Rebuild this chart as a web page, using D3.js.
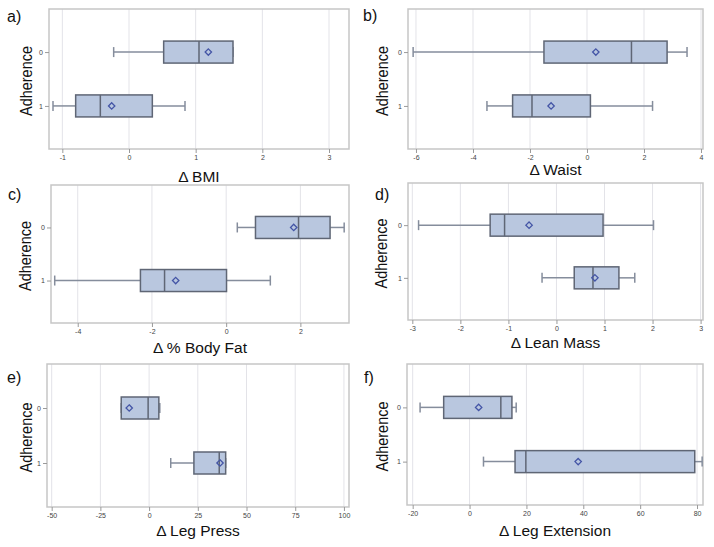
<!DOCTYPE html>
<html>
<head>
<meta charset="utf-8">
<script src="https://cdn.jsdelivr.net/npm/d3@7/dist/d3.min.js"></script>
<style>
  html, body { margin: 0; padding: 0; background: #ffffff; }
  svg { display: block; font-family: "Liberation Sans", Arial, sans-serif; }
</style>
</head>
<body>
<svg id="chart" width="714" height="547"></svg>
<script>
// ---- data ----
const categories = ["0", "1"];
const panelLabels = ["a)", "b)", "c)", "d)", "e)", "f)"];
const axisTitles = ["Δ BMI", "Δ Waist", "Δ % Body Fat", "Δ Lean Mass", "Δ Leg Press", "Δ Leg Extension"];
const xTicks = [
  [-1, 0, 1, 2, 3],
  [-6, -4, -2, 0, 2, 4],
  [-4, -2, 0, 2],
  [-3, -2, -1, 0, 1, 2, 3],
  [-50, -25, 0, 25, 50, 75, 100],
  [-20, 0, 20, 40, 60, 80]
];
const xDomains = [
  [-1.2, 3.3],
  [-6.28, 4.07],
  [-4.72, 3.31],
  [-3.09, 3.05],
  [-52.4, 102.6],
  [-22, 82.1]
];
// per panel: [group 0, group 1]
const lowWhisker  = [[-0.23, -1.14], [-6.1, -3.51], [0.30, -4.62], [-2.87, -0.30], [-14.3, 11.1], [-17.4, 4.9]];
const q1          = [[0.52, -0.80],  [-1.51, -2.61], [0.79, -2.31], [-1.38, 0.37], [-14.3, 23.0], [-9.1, 16.0]];
const median      = [[1.05, -0.43],  [1.56, -1.93],  [1.95, -1.66], [-1.08, 0.76], [-0.5, 36.0],  [11.0, 19.8]];
const mean        = [[1.19, -0.26],  [0.31, -1.26],  [1.82, -1.36], [-0.57, 0.80], [-10.2, 36.4], [3.2, 38.2]];
const q3          = [[1.56, 0.35],   [2.81, 0.12],   [2.80, 0.01],  [0.97, 1.30],  [5.0, 39.3],   [14.9, 79.2]];
const highWhisker = [[1.56, 0.84],   [3.51, 2.30],   [3.18, 1.19],  [2.02, 1.63],  [5.5, 39.3],   [16.4, 81.8]];

// ---- layout ----
const frames = [
  [49, 9, 349, 149],
  [408, 9, 703, 149],
  [51, 185, 349, 323],
  [408, 183, 703, 320],
  [47, 364, 349, 507],
  [407, 364, 703, 505]
];
const labelPos = [[7, 22], [363, 21], [8, 200], [375, 200], [7, 383], [364, 383]];
const titleY = [182, 175, 353, 348, 536, 536];
const yLabelX = [26, 382, 25, 381, 26, 382];

const svg = d3.select("#chart");
const boxFill = "#b9c7df", boxStroke = "#5f6675", whiskerColor = "#858d9c", meanColor = "#4455a6";

frames.forEach((f, i) => {
  const [x0, y0, x1, y1] = f;
  const g = svg.append("g");
  const x = d3.scaleLinear().domain(xDomains[i]).range([x0, x1]);
  const y = d3.scalePoint().domain(categories).range([y0, y1]).padding(0.8);

  // gridlines
  g.selectAll("line.grid").data(xTicks[i]).join("line")
    .attr("x1", d => x(d)).attr("x2", d => x(d))
    .attr("y1", y0).attr("y2", y1)
    .attr("stroke", "#e3e3e8").attr("stroke-width", 1);

  // frame
  g.append("rect").attr("x", x0).attr("y", y0).attr("width", x1 - x0).attr("height", y1 - y0)
    .attr("fill", "none").attr("stroke", "#c6c6c6").attr("stroke-width", 1.5);

  // x axis
  const xAxis = d3.axisBottom(x).tickValues(xTicks[i]).tickSize(4).tickPadding(2).tickFormat(d => String(d));
  const xa = g.append("g").attr("transform", `translate(0,${y1})`).call(xAxis);
  xa.select(".domain").remove();
  xa.selectAll("line").attr("stroke", "#9a9a9a");
  xa.selectAll("text").attr("fill", "#444").style("font-size", "7px").style("font-family", "Liberation Sans, Arial, sans-serif");

  // y axis
  const yAxis = d3.axisLeft(y).tickSize(4).tickPadding(2);
  const ya = g.append("g").attr("transform", `translate(${x0},0)`).call(yAxis);
  ya.select(".domain").remove();
  ya.selectAll("line").attr("stroke", "#9a9a9a");
  ya.selectAll("text").attr("fill", "#444").style("font-size", "7px").style("font-family", "Liberation Sans, Arial, sans-serif");

  // boxes
  const bh = 22, capH = 10;
  categories.forEach((c, k) => {
    const cy = y(c);
    // whiskers
    g.append("line").attr("x1", x(lowWhisker[i][k])).attr("x2", x(q1[i][k]))
      .attr("y1", cy).attr("y2", cy).attr("stroke", whiskerColor).attr("stroke-width", 1.5);
    g.append("line").attr("x1", x(q3[i][k])).attr("x2", x(highWhisker[i][k]))
      .attr("y1", cy).attr("y2", cy).attr("stroke", whiskerColor).attr("stroke-width", 1.5);
    [lowWhisker[i][k], highWhisker[i][k]].forEach(v => {
      g.append("line").attr("x1", x(v)).attr("x2", x(v))
        .attr("y1", cy - capH / 2).attr("y2", cy + capH / 2)
        .attr("stroke", whiskerColor).attr("stroke-width", 1.5);
    });
    // box
    g.append("rect").attr("x", x(q1[i][k])).attr("y", cy - bh / 2)
      .attr("width", x(q3[i][k]) - x(q1[i][k])).attr("height", bh)
      .attr("fill", boxFill).attr("stroke", boxStroke).attr("stroke-width", 1.5);
    // median
    g.append("line").attr("x1", x(median[i][k])).attr("x2", x(median[i][k]))
      .attr("y1", cy - bh / 2).attr("y2", cy + bh / 2)
      .attr("stroke", boxStroke).attr("stroke-width", 1.5);
    // mean diamond
    g.append("path").attr("d", d3.symbol(d3.symbolDiamond2, 26)())
      .attr("transform", `translate(${x(mean[i][k])},${cy})`)
      .attr("fill", "none").attr("stroke", meanColor).attr("stroke-width", 1.3);
  });

  // panel label
  svg.append("text").attr("x", labelPos[i][0]).attr("y", labelPos[i][1])
    .text(panelLabels[i]).style("font-size", "16px").attr("fill", "#111");

  // x title
  svg.append("text").attr("x", (x0 + x1) / 2).attr("y", titleY[i])
    .attr("text-anchor", "middle").text(axisTitles[i])
    .style("font-size", "15.5px").attr("fill", "#111");

  // y title
  svg.append("text")
    .attr("transform", `translate(${yLabelX[i]},${(y0 + y1) / 2 + 2}) rotate(-90)`)
    .attr("text-anchor", "middle").attr("dominant-baseline", "central")
    .attr("textLength", 70).attr("lengthAdjust", "spacingAndGlyphs")
    .text("Adherence").style("font-size", "17px").attr("fill", "#111");
});
</script>
</body>
</html>
